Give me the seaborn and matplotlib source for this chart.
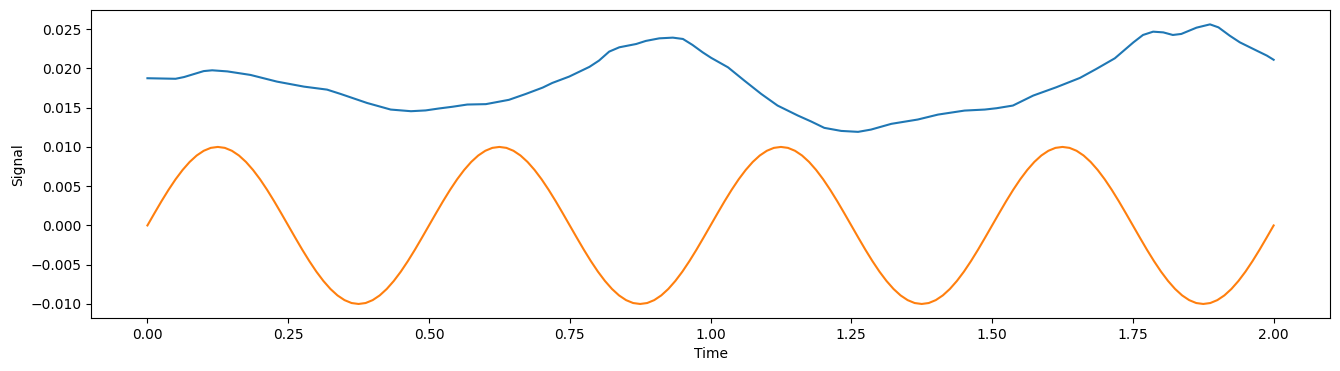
import numpy as np
import pandas as pd
import matplotlib
matplotlib.use("Agg")
import matplotlib.pyplot as plt
import seaborn as sns

# blue trace at irregular times
noise_time = [
    0.0, 0.05, 0.065, 0.10, 0.115, 0.142, 0.183, 0.23, 0.278, 0.319,
    0.343, 0.39, 0.432, 0.468, 0.494, 0.518, 0.542, 0.568, 0.601, 0.642,
    0.672, 0.702, 0.719, 0.749, 0.785, 0.802, 0.82, 0.838, 0.868, 0.885,
    0.909, 0.933, 0.951, 0.968, 0.986, 1.001, 1.031, 1.06, 1.09, 1.119,
    1.155, 1.179, 1.202, 1.232, 1.262, 1.285, 1.321, 1.368, 1.404, 1.451,
    1.487, 1.508, 1.537, 1.573, 1.614, 1.656, 1.685, 1.718, 1.751, 1.768,
    1.786, 1.804, 1.821, 1.836, 1.863, 1.887, 1.902, 1.922, 1.94, 1.97,
    1.988, 2.0,
]
noise_signal = [
    0.01875, 0.01868, 0.0189, 0.01966, 0.01976, 0.01962, 0.01917, 0.01832, 0.01768, 0.0173,
    0.01675, 0.0156, 0.01476, 0.01455, 0.01465, 0.0149, 0.01512, 0.0154, 0.01545, 0.0160,
    0.01675, 0.01756, 0.01815, 0.01896, 0.0202, 0.0210, 0.02214, 0.02269, 0.02311, 0.0235,
    0.02383, 0.02392, 0.02375, 0.02299, 0.02205, 0.02135, 0.02014, 0.01845, 0.01675, 0.01527,
    0.0140, 0.01323, 0.01243, 0.01204, 0.01192, 0.01221, 0.01294, 0.01349, 0.01412, 0.01463,
    0.01476, 0.01493, 0.01527, 0.01654, 0.0176, 0.01879, 0.01993, 0.02129, 0.02332, 0.02426,
    0.02468, 0.02459, 0.02426, 0.02439, 0.02519, 0.02561, 0.02523, 0.02417, 0.02332, 0.02226,
    0.02163, 0.0211,
]

# orange trace, sampled every 0.0125 s
wave_time = np.linspace(0, 2, 161)
wave_signal = [
    0.0, 0.00156, 0.00309, 0.00454, 0.00588, 0.00707, 0.00809, 0.00891, 0.00951, 0.00988,
    0.01, 0.00988, 0.00951, 0.00891, 0.00809, 0.00707, 0.00588, 0.00454, 0.00309, 0.00156,
    0.0, -0.00156, -0.00309, -0.00454, -0.00588, -0.00707, -0.00809, -0.00891, -0.00951, -0.00988,
    -0.01, -0.00988, -0.00951, -0.00891, -0.00809, -0.00707, -0.00588, -0.00454, -0.00309, -0.00156,
    0.0, 0.00156, 0.00309, 0.00454, 0.00588, 0.00707, 0.00809, 0.00891, 0.00951, 0.00988,
    0.01, 0.00988, 0.00951, 0.00891, 0.00809, 0.00707, 0.00588, 0.00454, 0.00309, 0.00156,
    0.0, -0.00156, -0.00309, -0.00454, -0.00588, -0.00707, -0.00809, -0.00891, -0.00951, -0.00988,
    -0.01, -0.00988, -0.00951, -0.00891, -0.00809, -0.00707, -0.00588, -0.00454, -0.00309, -0.00156,
    0.0, 0.00156, 0.00309, 0.00454, 0.00588, 0.00707, 0.00809, 0.00891, 0.00951, 0.00988,
    0.01, 0.00988, 0.00951, 0.00891, 0.00809, 0.00707, 0.00588, 0.00454, 0.00309, 0.00156,
    0.0, -0.00156, -0.00309, -0.00454, -0.00588, -0.00707, -0.00809, -0.00891, -0.00951, -0.00988,
    -0.01, -0.00988, -0.00951, -0.00891, -0.00809, -0.00707, -0.00588, -0.00454, -0.00309, -0.00156,
    0.0, 0.00156, 0.00309, 0.00454, 0.00588, 0.00707, 0.00809, 0.00891, 0.00951, 0.00988,
    0.01, 0.00988, 0.00951, 0.00891, 0.00809, 0.00707, 0.00588, 0.00454, 0.00309, 0.00156,
    0.0, -0.00156, -0.00309, -0.00454, -0.00588, -0.00707, -0.00809, -0.00891, -0.00951, -0.00988,
    -0.01, -0.00988, -0.00951, -0.00891, -0.00809, -0.00707, -0.00588, -0.00454, -0.00309, -0.00156,
    0.0,
]

fig, ax = plt.subplots(figsize=(13.4, 3.71), dpi=100)
fig.subplots_adjust(left=0.068, right=0.9925, top=0.972, bottom=0.143)

sns.lineplot(x=noise_time, y=noise_signal, color="tab:blue", linewidth=1.5, ax=ax)
sns.lineplot(x=wave_time, y=wave_signal, color="tab:orange", linewidth=1.5, ax=ax)

ax.set_xlabel("Time")
ax.set_ylabel("Signal")

fig.savefig("out.png", dpi=100)
